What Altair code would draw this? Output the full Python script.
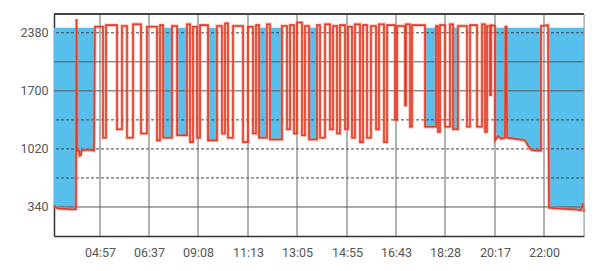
import altair as alt
import pandas as pd

# ---- axis data ----
tick_pos = [46, 95, 144, 194, 243, 293, 342, 391, 441, 490]
tick_lab = ["04:57", "06:37", "09:08", "11:13", "13:05", "14:55", "16:43", "18:28", "20:17", "22:00"]
y_labels = [340, 1020, 1700, 2380]
grid_solid = [340, 1700, 2040]
grid_dash = [680, 1020, 1360, 2380]
BLUE_TOP = 2440
X_MAX = 530
Y_MAX = 2600

# ---- series data ----
open_x = [0, 2, 5, 12, 18, 22, 22.5, 23, 25, 25.5, 27, 27.5, 33, 40, 41]
open_v = [360, 330, 320, 318, 310, 315, 2540, 1000, 1000, 940, 950, 1000, 1010, 1000, 2450]

dip_start = [49, 63, 73, 87, 103, 109, 123, 136, 143, 154, 168, 174, 189, 199, 205, 216, 233, 240, 248,
             255, 266, 276, 283, 291, 298, 306, 313, 322, 330, 341, 351, 356, 371, 384, 391, 399, 413,
             423, 431, 436]
dip_end = [52, 68, 79, 93, 106, 118, 133, 139, 146, 163, 171, 179, 194, 202, 213, 228, 236, 243, 251,
           263, 271, 279, 286, 294, 301, 309, 317, 325, 333, 343, 352, 358, 382, 386, 396, 404, 416,
           428, 433, 437]
dip_low = [1150, 1250, 1150, 1200, 1120, 1150, 1180, 1100, 1150, 1120, 1200, 1150, 1100, 1200, 1150, 1130,
           1250, 1200, 1180, 1130, 1150, 1250, 1200, 1250, 1150, 1100, 1150, 1250, 1100, 1360, 1530, 1280,
           1280, 1220, 1280, 1250, 1280, 1280, 1220, 1650]
dip_blue = [0, 0, 0, 0, 0, 1, 1, 0, 0, 1, 0, 0, 0, 0, 1, 1, 0, 0, 0, 1, 0, 0, 0, 0, 0, 0, 0, 0, 0, 0, 0,
            0, 1, 0, 0, 1, 0, 0, 0, 0]
high_after = [2470, 2460, 2480, 2450, 2470, 2460, 2480, 2450, 2470, 2460, 2490, 2460, 2450, 2470, 2480,
              2460, 2470, 2500, 2460, 2470, 2480, 2460, 2470, 2450, 2480, 2470, 2460, 2480, 2470, 2460,
              2480, 2470, 2460, 2470, 2480, 2460, 2470, 2480, 2460, 2470]

close_x = [441, 441, 444, 447, 451, 451.5, 452.5, 453, 460, 466, 471, 474, 477, 481, 487, 487, 494,
           495, 500, 508, 515, 522, 527, 529, 530]
close_v = [2460, 1120, 1170, 1140, 1150, 2450, 2450, 1150, 1140, 1130, 1120, 1060, 1010, 1000, 1000,
           2460, 2470, 330, 325, 320, 315, 310, 300, 385, 280]

# ---- build line points ----
lx, lv = list(open_x), list(open_v)
for s, e, lo, hi in zip(dip_start, dip_end, dip_low, high_after):
    lx += [s, s, e, e]
    lv += [lv[-1], lo, lo, hi]
lx += close_x
lv += close_v
line_df = pd.DataFrame({"x": lx, "v": lv, "o": range(len(lx))})

# ---- build blue areas ----
ax, av, ag = [], [], []
g = 0
for x, v in zip(open_x[:6], open_v[:6]):
    ax.append(x); av.append(v); ag.append(g)
g += 1
for x, v in zip(open_x[7:14], open_v[7:14]):
    ax.append(x); av.append(v); ag.append(g)
for s, e, lo, b in zip(dip_start, dip_end, dip_low, dip_blue):
    if b:
        g += 1
        ax += [s, e]; av += [lo, lo]; ag += [g, g]
g += 1
for x, v in zip(close_x[1:15], close_v[1:15]):
    ax.append(x); av.append(min(v, BLUE_TOP)); ag.append(g)
g += 1
for x, v in zip(close_x[17:], close_v[17:]):
    ax.append(x); av.append(v); ag.append(g)
area_df = pd.DataFrame({"x": ax, "v": av, "top": BLUE_TOP, "g": ag})

xscale = alt.Scale(domain=[0, X_MAX], nice=False, zero=False)
yscale = alt.Scale(domain=[0, Y_MAX], nice=False)

label_expr = "[" + ",".join("'%s'" % t for t in tick_lab) + "][indexof([" + ",".join(
    str(p) for p in tick_pos) + "], datum.value)]"

xaxis = alt.Axis(values=tick_pos, labelExpr=label_expr, grid=False, ticks=False, labelPadding=10,
                 labelFontSize=12.5, labelColor="#555", labelFont="Roboto", domainColor="#333",
                 domainWidth=1.5, title=None)
yaxis = alt.Axis(values=y_labels, format="d", grid=False, ticks=False, labelPadding=6,
                 labelFontSize=12.5, labelColor="#555", labelFont="Roboto", domainColor="#333",
                 domainWidth=1.5, title=None)

area = alt.Chart(area_df).mark_area(color="#57bfec", opacity=1, interpolate="linear").encode(
    x=alt.X("x:Q", scale=xscale, axis=xaxis),
    y=alt.Y("v:Q", scale=yscale, axis=yaxis),
    y2="top:Q",
    detail="g:N",
)

hs = alt.Chart(pd.DataFrame({"v": grid_solid})).mark_rule(color="#555", strokeWidth=1).encode(
    y=alt.Y("v:Q", scale=yscale))
hd = alt.Chart(pd.DataFrame({"v": grid_dash})).mark_rule(color="#444", strokeWidth=1,
                                                         strokeDash=[3, 2]).encode(
    y=alt.Y("v:Q", scale=yscale))
vg = alt.Chart(pd.DataFrame({"x": tick_pos})).mark_rule(color="#666", strokeWidth=1).encode(
    x=alt.X("x:Q", scale=xscale))

halo = alt.Chart(line_df).mark_line(color="#f08a7a", strokeWidth=3.4, opacity=0.55).encode(
    x=alt.X("x:Q", scale=xscale), y=alt.Y("v:Q", scale=yscale), order="o:Q")
line = alt.Chart(line_df).mark_line(color="#e23a26", strokeWidth=1.6).encode(
    x=alt.X("x:Q", scale=xscale), y=alt.Y("v:Q", scale=yscale), order="o:Q")

top_border = alt.Chart(pd.DataFrame({"v": [Y_MAX]})).mark_rule(color="#444", strokeWidth=2).encode(
    y=alt.Y("v:Q", scale=yscale))
right_border = alt.Chart(pd.DataFrame({"x": [X_MAX]})).mark_rule(color="#999", strokeWidth=1).encode(
    x=alt.X("x:Q", scale=xscale))

chart = alt.layer(area, hs, hd, vg, halo, line, top_border, right_border).properties(
    width=530, height=222, autosize="none",
    padding={"left": 46, "top": 6, "right": 9, "bottom": 27},
).configure_view(stroke=None).configure(background="white")

chart.save("out.html", embed_options={"renderer": "svg", "actions": False})
